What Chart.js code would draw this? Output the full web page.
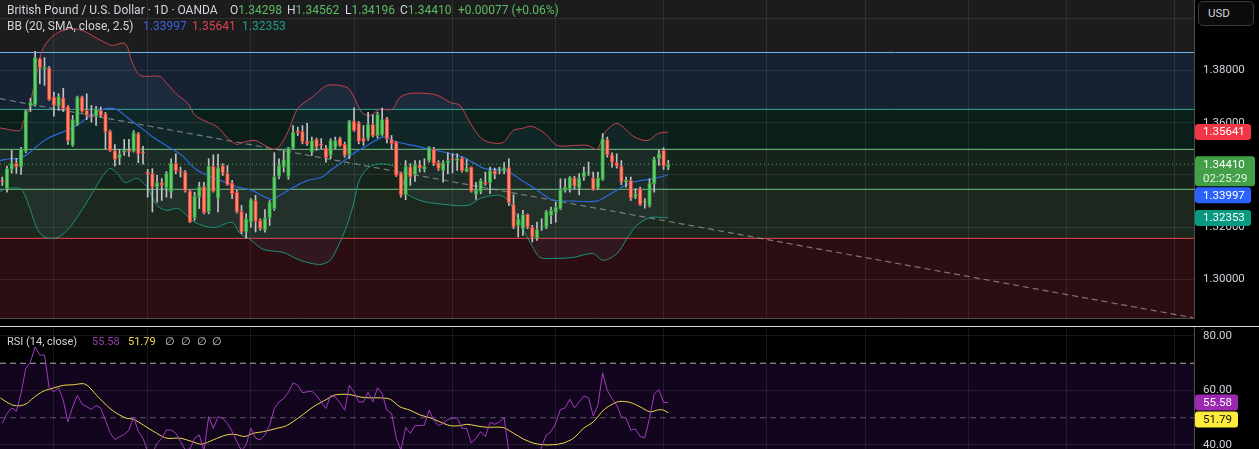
<!DOCTYPE html>
<html><head><meta charset="utf-8">
<title>GBPUSD 1D</title>
<script src="https://cdn.jsdelivr.net/npm/chart.js@4.4.1/dist/chart.umd.min.js"></script>
<style>
html,body{margin:0;padding:0;background:#000;}
body{width:1259px;height:449px;overflow:hidden;position:relative;font-family:Roboto,'Liberation Sans',Arial,sans-serif;}
canvas{position:absolute;left:0;display:block;}
#cMain{top:0;}
#cRsi{top:327px;}
#sep{position:absolute;left:0;top:326px;width:1259px;height:1px;background:#dcdcdc;}
.t{position:absolute;white-space:nowrap;font-size:12px;line-height:14px;color:#d1d4dc;}
.r{font-size:11px;}
.g{color:#5dbb63;}
#usd{position:absolute;left:1198px;top:1px;width:45px;height:23px;padding-left:9px;border:1px solid #3a3a3a;border-radius:5px;background:#0b0b0b;color:#d1d4dc;font-size:11.5px;line-height:23px;}
</style></head><body>
<canvas id="cMain" width="1259" height="326"></canvas>
<div id="sep"></div>
<canvas id="cRsi" width="1259" height="122"></canvas>

<div class="t" style="left:7px;top:3px">British Pound / U.S. Dollar · 1D · OANDA</div>
<div class="t" style="left:230px;top:3px">O<span class="g" id="vO"></span></div>
<div class="t" style="left:287px;top:3px">H<span class="g" id="vH"></span></div>
<div class="t" style="left:345px;top:3px">L<span class="g" id="vL"></span></div>
<div class="t" style="left:400px;top:3px">C<span class="g" id="vC"></span></div>
<div class="t g" style="left:458px;top:3px" id="vChg"></div>
<div class="t" style="left:7px;top:19px">BB (20, SMA, close, 2.5)</div>
<div class="t" style="left:143px;top:19px;color:#3563e0" id="vMid"></div>
<div class="t" style="left:192px;top:19px;color:#dc4554" id="vUp"></div>
<div class="t" style="left:242px;top:19px;color:#1f9e8a" id="vLo"></div>
<div class="t r" style="left:7px;top:335px">RSI (14, close)</div>
<div class="t r" style="left:92px;top:335px;color:#9a3cb4" id="vRsi"></div>
<div class="t r" style="left:128px;top:335px;color:#f2d84a" id="vRsiMa"></div>
<div class="t r" style="left:165px;top:335px">∅</div>
<div class="t r" style="left:181px;top:335px">∅</div>
<div class="t r" style="left:197px;top:335px">∅</div>
<div class="t r" style="left:212px;top:335px">∅</div>
<div id="usd">USD</div>

<script>
// ---------------- data ----------------
const candleIdx = Array.from({length: 143}, (_, i) => i);
const opens = [
1.3379,1.3347,1.3421,1.3444,1.3431,1.3490,1.3663,1.3669,1.3845,1.3804,
1.3809,1.3698,1.3662,1.3695,1.3661,1.3513,1.3593,1.3698,1.3647,1.3624,
1.3624,1.3647,1.3634,1.3567,1.3493,1.3464,1.3487,1.3494,1.3490,1.3558,
1.3485,1.3411,1.3405,1.3353,1.3371,1.3351,1.3334,1.3445,1.3417,1.3411,
1.3338,1.3236,1.3315,1.3355,1.3258,1.3433,1.3311,1.3436,1.3407,1.3369,
1.3334,1.3261,1.3181,1.3219,1.3302,1.3226,1.3188,1.3235,1.3271,1.3394,
1.3430,1.3392,1.3503,1.3569,1.3567,1.3528,1.3487,1.3536,1.3519,1.3504,
1.3475,1.3505,1.3539,1.3518,1.3477,1.3605,1.3600,1.3541,1.3541,1.3594,
1.3549,1.3554,1.3615,1.3535,1.3526,1.3407,1.3324,1.3431,1.3401,1.3439,
1.3421,1.3455,1.3500,1.3447,1.3417,1.3445,1.3459,1.3455,1.3464,1.3413,
1.3430,1.3325,1.3337,1.3372,1.3370,1.3416,1.3413,1.3415,1.3428,1.3286,
1.3207,1.3194,1.3249,1.3200,1.3158,1.3200,1.3200,1.3245,1.3255,1.3271,
1.3341,1.3347,1.3389,1.3350,1.3392,1.3407,1.3389,1.3350,1.3383,1.3535,
1.3477,1.3447,1.3434,1.3372,1.3379,1.3315,1.3347,1.3296,1.3283,1.3366,
1.3462,1.3494,1.34298];
const highs = [
1.3392,1.3434,1.3494,1.3463,1.3506,1.3650,1.3693,1.3873,1.3847,1.3849,
1.3815,1.3717,1.3711,1.3732,1.3666,1.3628,1.3702,1.3702,1.3711,1.3666,
1.3663,1.3660,1.3640,1.3572,1.3516,1.3498,1.3536,1.3536,1.3570,1.3562,
1.3510,1.3421,1.3424,1.3398,1.3386,1.3413,1.3462,1.3481,1.3430,1.3417,
1.3341,1.3334,1.3372,1.3372,1.3462,1.3477,1.3479,1.3443,1.3436,1.3379,
1.3341,1.3283,1.3251,1.3309,1.3322,1.3232,1.3267,1.3302,1.3485,1.3462,
1.3494,1.3506,1.3589,1.3583,1.3589,1.3598,1.3545,1.3541,1.3539,1.3513,
1.3539,1.3545,1.3545,1.3526,1.3609,1.3657,1.3605,1.3589,1.3640,1.3630,
1.3640,1.3656,1.3621,1.3551,1.3528,1.3411,1.3455,1.3443,1.3455,1.3455,
1.3462,1.3509,1.3506,1.3455,1.3455,1.3485,1.3481,1.3481,1.3468,1.3459,
1.3431,1.3372,1.3385,1.3411,1.3430,1.3426,1.3430,1.3447,1.3462,1.3324,
1.3251,1.3264,1.3251,1.3207,1.3219,1.3232,1.3264,1.3277,1.3296,1.3385,
1.3385,1.3394,1.3395,1.3405,1.3430,1.3449,1.3411,1.3411,1.3558,1.3545,
1.3485,1.3481,1.3455,1.3392,1.3392,1.3347,1.3353,1.3309,1.3385,1.3468,
1.3494,1.3504,1.34562];
const lows = [
1.3360,1.3334,1.3407,1.3406,1.3402,1.3485,1.3643,1.3663,1.3749,1.3743,
1.3685,1.3625,1.3647,1.3643,1.3517,1.3509,1.3589,1.3640,1.3612,1.3602,
1.3590,1.3621,1.3500,1.3490,1.3434,1.3439,1.3475,1.3471,1.3487,1.3447,
1.3441,1.3315,1.3258,1.3296,1.3302,1.3315,1.3311,1.3405,1.3392,1.3334,
1.3217,1.3226,1.3271,1.3251,1.3251,1.3334,1.3258,1.3398,1.3360,1.3309,
1.3254,1.3175,1.3158,1.3200,1.3181,1.3188,1.3181,1.3207,1.3264,1.3385,
1.3411,1.3383,1.3500,1.3551,1.3519,1.3513,1.3475,1.3494,1.3500,1.3449,
1.3462,1.3500,1.3509,1.3468,1.3462,1.3567,1.3519,1.3513,1.3532,1.3545,
1.3542,1.3549,1.3523,1.3500,1.3394,1.3315,1.3305,1.3360,1.3375,1.3411,
1.3411,1.3449,1.3436,1.3417,1.3372,1.3405,1.3408,1.3417,1.3411,1.3411,
1.3334,1.3306,1.3328,1.3360,1.3328,1.3385,1.3405,1.3405,1.3283,1.3194,
1.3162,1.3168,1.3194,1.3143,1.3149,1.3188,1.3194,1.3213,1.3219,1.3267,
1.3334,1.3334,1.3347,1.3324,1.3379,1.3398,1.3341,1.3345,1.3379,1.3468,
1.3430,1.3426,1.3362,1.3353,1.3302,1.3309,1.3283,1.3273,1.3277,1.3334,
1.3436,1.3421,1.34196];
const closes = [
1.3375,1.3424,1.3445,1.3431,1.3500,1.3646,1.3679,1.3849,1.3810,1.3812,
1.3688,1.3666,1.3700,1.3653,1.3531,1.3612,1.3698,1.3644,1.3628,1.3621,
1.3653,1.3628,1.3564,1.3493,1.3459,1.3479,1.3494,1.3490,1.3562,1.3480,
1.3483,1.3405,1.3353,1.3371,1.3360,1.3407,1.3445,1.3415,1.3411,1.3340,
1.3219,1.3318,1.3355,1.3255,1.3434,1.3338,1.3428,1.3407,1.3362,1.3328,
1.3258,1.3181,1.3232,1.3306,1.3222,1.3194,1.3236,1.3296,1.3394,1.3436,
1.3459,1.3504,1.3564,1.3562,1.3526,1.3519,1.3532,1.3506,1.3513,1.3466,
1.3532,1.3532,1.3513,1.3475,1.3605,1.3570,1.3528,1.3528,1.3594,1.3549,
1.3632,1.3612,1.3539,1.3519,1.3398,1.3322,1.3434,1.3392,1.3439,1.3426,
1.3433,1.3506,1.3443,1.3424,1.3447,1.3455,1.3458,1.3464,1.3416,1.3426,
1.3337,1.3343,1.3379,1.3366,1.3417,1.3402,1.3417,1.3428,1.3294,1.3200,
1.3232,1.3248,1.3200,1.3162,1.3191,1.3202,1.3260,1.3264,1.3277,1.3347,
1.3353,1.3392,1.3357,1.3389,1.3411,1.3408,1.3343,1.3389,1.3539,1.3477,
1.3449,1.3434,1.3372,1.3379,1.3311,1.3327,1.3286,1.3297,1.3369,1.3462,
1.3481,1.34333,1.34410];

// Bollinger bands read at sampled bar positions
const upperIdx = [-0.5,3.8,4.4,5.5,6.5,7.6,8.5,10.2,12.3,15.1,17.6,20.2,21.9,23.4,26.2,27.7,29.4,33.6,35.1,37.5,39.6,41.1,43.9,46.0,48.1,50.0,51.1,53.9,56.0,58.1,59.6,61.3,63.0,66.0,69.4,73.5,74.8,76.7,78.4,80.5,83.1,84.8,86.9,90.5,92.9,95.5,97.6,99.7,101.9,104.0,106.8,108.9,110.8,112.9,115.7,118.3,122.1,124.9,126.8,128.5,131.1,134.9,137.7,139.8,142];
const upperVal = [1.3580,1.3570,1.3601,1.3639,1.3720,1.3808,1.3877,1.3923,1.3949,1.3961,1.3949,1.3923,1.3907,1.3896,1.3903,1.3831,1.3781,1.3777,1.3750,1.3704,1.3674,1.3628,1.3601,1.3582,1.3540,1.3517,1.3524,1.3532,1.3513,1.3498,1.3521,1.3582,1.3655,1.3697,1.3743,1.3735,1.3704,1.3639,1.3628,1.3651,1.3651,1.3697,1.3712,1.3712,1.3704,1.3678,1.3666,1.3601,1.3544,1.3524,1.3524,1.3570,1.3578,1.3586,1.3559,1.3513,1.3513,1.3513,1.3498,1.3563,1.3597,1.3544,1.3532,1.3559,1.35641];
const midIdx = [-0.5,1.6,3.8,5.9,8.0,10.2,12.9,15.9,18.3,20.8,23.0,24.5,26.6,29.4,32.1,35.0,38.3,41.1,43.9,47.5,50.3,53.2,56.0,57.7,59.2,62.4,65.2,68.2,70.0,72.0,74.8,77.8,80.5,81.6,84.2,87.6,91.2,94.8,98.2,100.4,102.9,106.1,107.8,110.8,113.6,117.2,121.5,126.8,129.2,132.1,134.3,138.5,142];
const midVal = [1.3455,1.3462,1.3464,1.3487,1.3519,1.3545,1.3564,1.3590,1.3621,1.3647,1.3656,1.3650,1.3621,1.3583,1.3545,1.3512,1.3475,1.3424,1.3398,1.3372,1.3353,1.3341,1.3315,1.3306,1.3322,1.3356,1.3379,1.3392,1.3418,1.3443,1.3481,1.3513,1.3541,1.3545,1.3526,1.3513,1.3498,1.3485,1.3468,1.3447,1.3424,1.3420,1.3413,1.3379,1.3347,1.3305,1.3300,1.3300,1.3322,1.3353,1.3372,1.3385,1.33997];
const lowerIdx = [-0.5,1.0,3.8,4.8,5.9,7.4,9.1,11.9,14.4,17.2,19.8,21.5,23.0,24.5,26.2,28.7,30.9,33.0,35.1,37.5,40.4,42.6,45.4,49.0,50.7,52.8,55.6,59.9,63.5,67.7,69.9,72.0,73.5,74.8,76.3,78.8,83.1,85.2,86.3,89.7,94.4,99.3,101.9,105.1,106.8,108.3,109.9,111.4,112.9,114.6,117.4,121.7,125.9,128.1,131.1,133.2,135.3,138.1,142];
const lowerVal = [1.3337,1.3348,1.3348,1.3322,1.3272,1.3195,1.3161,1.3161,1.3199,1.3272,1.3348,1.3398,1.3425,1.3406,1.3371,1.3387,1.3352,1.3283,1.3264,1.3272,1.3226,1.3207,1.3199,1.3218,1.3176,1.3153,1.3115,1.3103,1.3073,1.3057,1.3073,1.3142,1.3207,1.3283,1.3387,1.3436,1.3436,1.3390,1.3329,1.3299,1.3287,1.3283,1.3310,1.3322,1.3318,1.3291,1.3233,1.3180,1.3130,1.3084,1.3080,1.3084,1.3099,1.3073,1.3099,1.3157,1.3207,1.3237,1.32353];

// drawn levels, trend line
const levelVals = [1.3869, 1.3651, 1.3498, 1.3345, 1.3157];
const trendIdx = [-0.49, 253.9];
const trendVal = [1.3692, 1.2853];

// RSI (14) and its MA
const rsiVals = [
48,51.5,53.6,52.4,59,68,70.5,76,73,73,
61,59.5,61,56.4,48.5,54,58.2,55,54,53.1,
54.5,53.5,49,44.5,42,43,43.8,45.5,50.2,45,
42.5,37.5,37,40.5,42.5,45.5,45.5,44.3,41.3,38.3,
38.5,42.5,43.7,38,50.4,46.1,50.4,49.8,47.9,44.9,
41.3,38,40.1,46.1,42.5,41.9,43.7,47.3,53.4,55.8,
57,59.4,62.8,61.9,59.2,59.5,59.7,58.2,55.8,53.4,
58.2,57.6,55.5,52.8,61.9,59.4,55.8,55.8,59.4,55.8,
61,58.8,52.8,51.6,42.5,38.2,46.4,44.3,47.1,47.1,
47.3,52.8,49.1,47.1,47.9,49.4,49.8,50,46.1,46.1,
40.7,42.5,44.9,43.1,48.3,47.6,48.5,50,37.5,32,
33.5,35,33,30.5,33,39.5,43.7,44.9,48,53,
53.6,56.8,53.6,55.8,58,57.3,50.7,54.6,66.5,60,
57,54.6,50.4,49.8,45.5,45.9,43.1,42.7,49.8,58.8,
60.3,55.6,55.58];
const rsiMaIdx = [-0.4,0.9,2.3,3.8,5.2,6.6,8.7,10.9,13.0,15.1,17.3,18.3,20.8,23.7,26.5,27.9,30.1,32.9,35.1,37.9,40.4,42.5,45.0,47.8,49.6,51.7,53.5,55.7,58.5,60.6,63.5,66.3,69.2,70.6,72.0,74.1,76.3,78.4,80.5,82.7,84.8,86.9,89.1,91.2,93.3,95.5,97.6,99.0,101.2,103.3,106.8,109.0,111.1,113.2,115.3,117.5,119.6,121.8,123.9,126.0,128.2,130.3,131.7,133.9,136.0,138.1,139.9,141.0,142.0];
const rsiMaVal = [57.3,55.8,54.6,54.4,55.2,57.3,59.7,60.9,61.9,62.1,62.5,61.6,57.0,52.4,49.8,49.5,47.3,44.3,42.5,42.5,41.3,40.3,41.9,43.7,43.9,43.1,44.3,44.9,46.1,47.1,50.4,54.0,56.8,58.2,58.6,58.5,57.6,57.3,57.3,56.8,54.0,52.8,51.0,50.0,48.5,47.1,47.1,47.6,47.0,46.5,46.4,44.3,42.2,40.7,40.1,40.1,40.7,42.5,46.1,48.5,52.8,55.2,56.0,55.6,54.0,52.2,52.9,52.8,51.79];
const rsiLevels = [70, 50];

// axes
const priceTicks = [1.30, 1.32, 1.34, 1.36, 1.38, 1.40];
const rsiTicks = [40, 60, 80];
const monthIdx = [11, 31, 53, 75, 96, 118, 141, 163, 184, 206, 227, 250];
const COUNTDOWN = '02:25:29';

// ---------------- view settings ----------------
const X_MIN = -0.49, X_MAX = 254.09;
const PRICE_MIN = 1.2852, PRICE_MAX = 1.4070;
const RSI_MIN = 38.53, RSI_MAX = 83.30;
const zoneColors = ['#1c1c1c', '#162231', '#0a1e1a', '#15231a', '#1c281d', '#2c0d11'];
const levelColors = ['#6cb6f0', '#2fa898', '#7cc47f', '#7cc47f', '#e8474f'];
const UP = '#62cc66', UP_B = '#2f9a3f', DN = '#ff8c66', DN_B = '#e0393e', WICK = '#c2c2c2';
const GRID = 'rgba(255,255,255,0.085)';
const FONT = "Roboto, 'Liberation Sans', Arial, sans-serif";

Chart.defaults.font.family = FONT;
Chart.defaults.font.size = 11.5;
Chart.defaults.color = '#d1d4dc';

// header texts from data
const n = closes.length - 1;
document.getElementById('vO').textContent = opens[n].toFixed(5);
document.getElementById('vH').textContent = highs[n].toFixed(5);
document.getElementById('vL').textContent = lows[n].toFixed(5);
document.getElementById('vC').textContent = closes[n].toFixed(5);
const chg = closes[n] - closes[n - 1];
document.getElementById('vChg').textContent = (chg >= 0 ? '+' : '') + chg.toFixed(5) + ' (' + (chg >= 0 ? '+' : '') + (chg / closes[n - 1] * 100).toFixed(2) + '%)';
document.getElementById('vMid').textContent = midVal[midVal.length - 1].toFixed(5);
document.getElementById('vUp').textContent = upperVal[upperVal.length - 1].toFixed(5);
document.getElementById('vLo').textContent = lowerVal[lowerVal.length - 1].toFixed(5);
document.getElementById('vRsi').textContent = rsiVals[rsiVals.length - 1].toFixed(2);
document.getElementById('vRsiMa').textContent = rsiMaVal[rsiMaVal.length - 1].toFixed(2);

const pts = (xs, ys) => xs.map((x, i) => ({x, y: ys[i]}));
const hline = v => [{x: X_MIN, y: v}, {x: X_MAX, y: v}];
const isUp = i => closes[i] >= opens[i];

function drawTags(chart, tags) {
  const {ctx, chartArea: a, scales: {y}} = chart;
  const items = tags.map(t => Object.assign({}, t, {yc: y.getPixelForValue(t.value)})).sort((p, q) => p.yc - q.yc);
  let prevBottom = -1e9;
  ctx.save();
  ctx.font = '11.5px ' + FONT;
  ctx.textBaseline = 'middle';
  ctx.textAlign = 'left';
  for (const it of items) {
    const h = it.lines.length > 1 ? 30 : 16;
    let top = it.yc - 8;
    if (top < prevBottom + 1) top = prevBottom + 1;
    ctx.fillStyle = it.bg;
    ctx.beginPath();
    ctx.roundRect(a.right + 1, top, it.w, h, 3);
    ctx.fill();
    it.lines.forEach((s, k) => {
      ctx.fillStyle = k === 0 ? it.fg : 'rgba(255,255,255,0.85)';
      ctx.fillText(s, a.right + 9, top + 8.5 + k * 14.5);
    });
    prevBottom = top + h;
  }
  ctx.restore();
}

const mainPlugin = {
  id: 'mainPanel',
  beforeDraw(chart) {
    const {ctx, chartArea: a, scales: {y}} = chart;
    ctx.save();
    ctx.fillStyle = '#000';
    ctx.fillRect(0, 0, chart.width, chart.height);
    const bounds = [PRICE_MAX].concat(levelVals, [PRICE_MIN]);
    for (let i = 0; i < zoneColors.length; i++) {
      const y0 = y.getPixelForValue(bounds[i]);
      const y1 = y.getPixelForValue(bounds[i + 1]);
      ctx.fillStyle = zoneColors[i];
      ctx.fillRect(a.left, y0, a.right - a.left, y1 - y0);
    }
    ctx.restore();
  },
  afterDraw(chart) {
    drawTags(chart, [
      {value: upperVal[upperVal.length - 1], bg: '#f23645', fg: '#fff', w: 56, lines: [upperVal[upperVal.length - 1].toFixed(5)]},
      {value: closes[n], bg: '#43a047', fg: '#fff', w: 60, lines: [closes[n].toFixed(5), COUNTDOWN]},
      {value: midVal[midVal.length - 1], bg: '#2962ff', fg: '#fff', w: 56, lines: [midVal[midVal.length - 1].toFixed(5)]},
      {value: lowerVal[lowerVal.length - 1], bg: '#089981', fg: '#fff', w: 56, lines: [lowerVal[lowerVal.length - 1].toFixed(5)]}
    ]);
  }
};

const rsiPlugin = {
  id: 'rsiPanel',
  beforeDraw(chart) {
    const {ctx, chartArea: a, scales: {y}} = chart;
    ctx.save();
    ctx.fillStyle = '#000';
    ctx.fillRect(0, 0, chart.width, chart.height);
    const y70 = y.getPixelForValue(rsiLevels[0]);
    ctx.fillStyle = '#11061d';
    ctx.fillRect(a.left, y70, a.right - a.left, a.bottom - y70);
    ctx.restore();
  },
  afterDraw(chart) {
    drawTags(chart, [
      {value: rsiVals[rsiVals.length - 1], bg: '#9c27b0', fg: '#fff', w: 43, lines: [rsiVals[rsiVals.length - 1].toFixed(2)]},
      {value: rsiMaVal[rsiMaVal.length - 1], bg: '#ffeb3b', fg: '#111', w: 43, lines: [rsiMaVal[rsiMaVal.length - 1].toFixed(2)]}
    ]);
  }
};

function noPad(s) { s.paddingTop = 0; s.paddingBottom = 0; s.paddingLeft = 0; s.paddingRight = 0; }

function xScale(withBorder) {
  return {
    type: 'linear', min: X_MIN, max: X_MAX, offset: false,
    afterBuildTicks: s => { s.ticks = monthIdx.map(v => ({value: v})); },
    afterFit: s => { s.height = 0; noPad(s); },
    ticks: {display: false},
    grid: {color: GRID, drawTicks: false, offset: false},
    border: {display: withBorder, color: '#4d4d4d'}
  };
}

const lvlDatasets = levelVals.map((v, i) => ({
  type: 'line', data: hline(v), borderColor: levelColors[i], borderWidth: 1,
  pointRadius: 0, fill: false, order: 8
}));

new Chart(document.getElementById('cMain'), {
  type: 'line',
  data: {
    datasets: [
      {type: 'bar', data: candleIdx.map(i => ({x: i, y: [opens[i], closes[i]]})),
        backgroundColor: c => isUp(c.dataIndex) ? UP : DN,
        borderColor: c => isUp(c.dataIndex) ? UP_B : DN_B,
        borderWidth: 1, borderSkipped: false, barThickness: 3.6, minBarLength: 1, grouped: false, order: 1},
      {type: 'bar', data: candleIdx.map(i => ({x: i, y: [lows[i], highs[i]]})),
        backgroundColor: WICK, borderWidth: 0, barThickness: 1, grouped: false, order: 2},
      {type: 'line', data: pts(upperIdx, upperVal), borderColor: '#c9404f', borderWidth: 1, pointRadius: 0, tension: 0.3, fill: false, order: 4},
      {type: 'line', data: pts(midIdx, midVal), borderColor: '#2f66dc', borderWidth: 1.2, pointRadius: 0, tension: 0.3, fill: false, order: 4},
      {type: 'line', data: pts(lowerIdx, lowerVal), borderColor: '#1f8f7b', borderWidth: 1, pointRadius: 0, tension: 0.3,
        fill: {target: 2, above: 'rgba(120,165,210,0.07)', below: 'rgba(120,165,210,0.07)'}, order: 4},
      {type: 'line', data: hline(closes[n]), borderColor: '#4caf50', borderWidth: 1, borderDash: [1, 3], pointRadius: 0, fill: false, order: 3},
      {type: 'line', data: pts(trendIdx, trendVal), borderColor: 'rgba(170,170,170,0.65)', borderWidth: 1.2, borderDash: [6, 4], pointRadius: 0, fill: false, order: 6}
    ].concat(lvlDatasets)
  },
  options: {
    responsive: false, animation: false, events: [],
    layout: {padding: {left: 0, right: 0, top: 0, bottom: 8}},
    plugins: {legend: {display: false}, tooltip: {enabled: false}},
    scales: {
      x: xScale(true),
      y: {
        type: 'linear', position: 'right', min: PRICE_MIN, max: PRICE_MAX,
        afterBuildTicks: s => { s.ticks = priceTicks.map(v => ({value: v})); },
        afterFit: s => { s.width = 65; noPad(s); },
        ticks: {callback: v => Number(v).toFixed(5), padding: 9, color: '#d1d4dc', font: {size: 11.5}},
        grid: {color: GRID, drawTicks: false},
        border: {display: true, color: '#4d4d4d'}
      }
    }
  },
  plugins: [mainPlugin]
});

new Chart(document.getElementById('cRsi'), {
  type: 'line',
  data: {
    datasets: [
      {data: candleIdx.map(i => ({x: i, y: rsiVals[i]})), borderColor: '#a23ac0', borderWidth: 1, pointRadius: 0, tension: 0, fill: false, order: 1},
      {data: pts(rsiMaIdx, rsiMaVal), borderColor: '#f0d84a', borderWidth: 1, pointRadius: 0, tension: 0.3, fill: false, order: 2},
      {data: hline(rsiLevels[0]), borderColor: 'rgba(235,235,235,0.75)', borderWidth: 1, borderDash: [6, 4], pointRadius: 0, fill: false, order: 3},
      {data: hline(rsiLevels[1]), borderColor: 'rgba(200,200,200,0.4)', borderWidth: 1, borderDash: [6, 4], pointRadius: 0, fill: false, order: 3}
    ]
  },
  options: {
    responsive: false, animation: false, events: [],
    layout: {padding: 0},
    plugins: {legend: {display: false}, tooltip: {enabled: false}},
    scales: {
      x: xScale(false),
      y: {
        type: 'linear', position: 'right', min: RSI_MIN, max: RSI_MAX,
        afterBuildTicks: s => { s.ticks = rsiTicks.map(v => ({value: v})); },
        afterFit: s => { s.width = 65; noPad(s); },
        ticks: {callback: v => Number(v).toFixed(2), padding: 9, color: '#d1d4dc', font: {size: 11.5}},
        grid: {color: GRID, drawTicks: false},
        border: {display: true, color: '#4d4d4d'}
      }
    }
  },
  plugins: [rsiPlugin]
});
</script>
</body></html>
